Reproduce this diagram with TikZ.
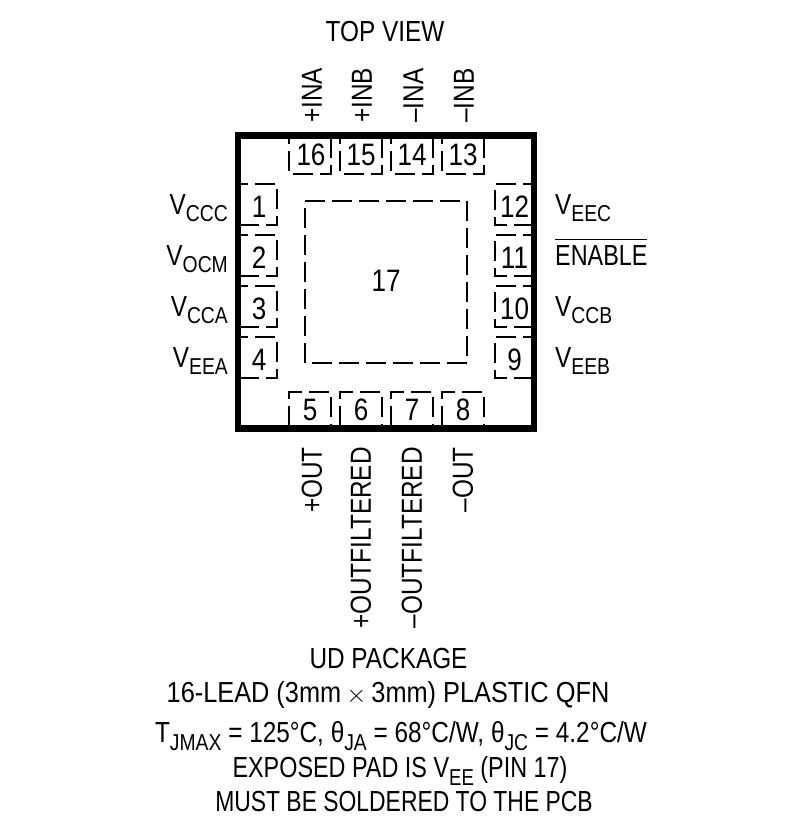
\documentclass[tikz,border=0pt]{standalone}
\usepackage{fontspec}
\setmainfont[FakeStretch=0.84]{Liberation Sans}
\newcommand{\subs}[1]{\raisebox{-0.26em}{\fontsize{23}{23}\selectfont #1}}
\begin{document}
\begin{tikzpicture}[x=1pt,y=-1pt]
	\tikzstyle{every node}=[font=\fontsize{29}{29}\selectfont,inner sep=0pt]
	\tikzstyle{padline}=[line width=2pt,dash pattern=on 20pt off 7pt]
	\tikzstyle{pinnum}=[font=\fontsize{31}{31}\selectfont]
	\tikzstyle{lname}=[anchor=east]
	\tikzstyle{rname}=[anchor=west]
	\tikzstyle{tname}=[anchor=west,rotate=90]
	\tikzstyle{bname}=[anchor=east,rotate=90]
	\tikzstyle{squeeze}=[transform shape,xscale=#1]
	\useasboundingbox (0,0) rectangle (785,822);
	\fill[white] (0,0) rectangle (785,822);
	% pads on the four sides
	\foreach \y in {184,235,286,337}
		\draw[padline,dash phase=13pt] (241,\y) -- (277,\y) -- (277,\y+41) -- (241,\y+41);
	\foreach \y in {184,235,286,337}
		\draw[padline,dash phase=12pt] (531,\y) -- (495,\y) -- (495,\y+41) -- (531,\y+41);
	\foreach \x in {289,340,391,442}
		\draw[padline,dash phase=1pt] (\x+42,139) -- (\x+42,174) -- (\x,174) -- (\x,139);
	\foreach \x in {289,340,391,442}
		\draw[padline,dash phase=19pt] (\x+42,425) -- (\x+42,392) -- (\x,392) -- (\x,425);
	\draw[padline] (305,201) -- (467,201) -- (467,363) -- (305,363) -- (305,201);
	\draw[line width=6.5pt] (238,135.5) rectangle (534,428.5);
	% pin numbers
	\foreach \y/\n in {207/1,258/2,309/3,360/4}
		\node[pinnum] (pin\n) at (259,\y) {\n};
	\foreach \y/\n in {207/12,258/11,309/10,360/9}
		\node[pinnum] (pin\n) at (514.5,\y) {\n};
	\foreach \x/\n in {311/16,361/15,412/14,463/13}
		\node[pinnum] (pin\n) at (\x,155) {\n};
	\foreach \x/\n in {310/5,361/6,412/7,463/8}
		\node[pinnum] (pin\n) at (\x,410) {\n};
	\node[pinnum] (pin17) at (386,281) {17};
	% pin names
	\node[lname] (vccc) at (228,208) {V\subs{CCC}};
	\node[lname] (vocm) at (228,259) {V\subs{OCM}};
	\node[lname] (vcca) at (228,310) {V\subs{CCA}};
	\node[lname] (veea) at (228,361) {V\subs{EEA}};
	\node[rname] (veec) at (555,208) {V\subs{EEC}};
	\node[rname,squeeze=0.96] (enable) at (555,252) {$\overline{\mbox{ENABLE}\rule{0pt}{25pt}}$};
	\node[rname] (vccb) at (555,310) {V\subs{CCB}};
	\node[rname] (veeb) at (555,361) {V\subs{EEB}};
	\node[tname] (pina) at (312,123) {+INA};
	\node[tname] (pinb) at (362,123) {+INB};
	\node[tname] (mina) at (413.5,123) {–INA};
	\node[tname] (minb) at (464,123) {–INB};
	\node[bname] (pout) at (312,447) {+OUT};
	\node[bname] (poutf) at (361,447) {+OUTFILTERED};
	\node[bname] (moutf) at (412,447) {–OUTFILTERED};
	\node[bname] (mout) at (463,447) {–OUT};
	% captions
	\node (topview) at (385,32) {TOP VIEW};
	\node (udpkg) at (388.5,659) {UD PACKAGE};
	\node[squeeze=1.04] (lead) at (388,695) {16-LEAD (3mm\,$\times$\,3mm) PLASTIC QFN};
	\node (tjmax) at (401,736) {T\subs{JMAX} = 125°C, θ\subs{JA} = 68°C/W, θ\subs{JC} = 4.2°C/W};
	\node[squeeze=0.96] (exposed) at (400,771) {EXPOSED PAD IS V\subs{EE} (PIN 17)};
	\node[squeeze=0.94] (solder) at (404,802) {MUST BE SOLDERED TO THE PCB};
\end{tikzpicture}
\end{document}
